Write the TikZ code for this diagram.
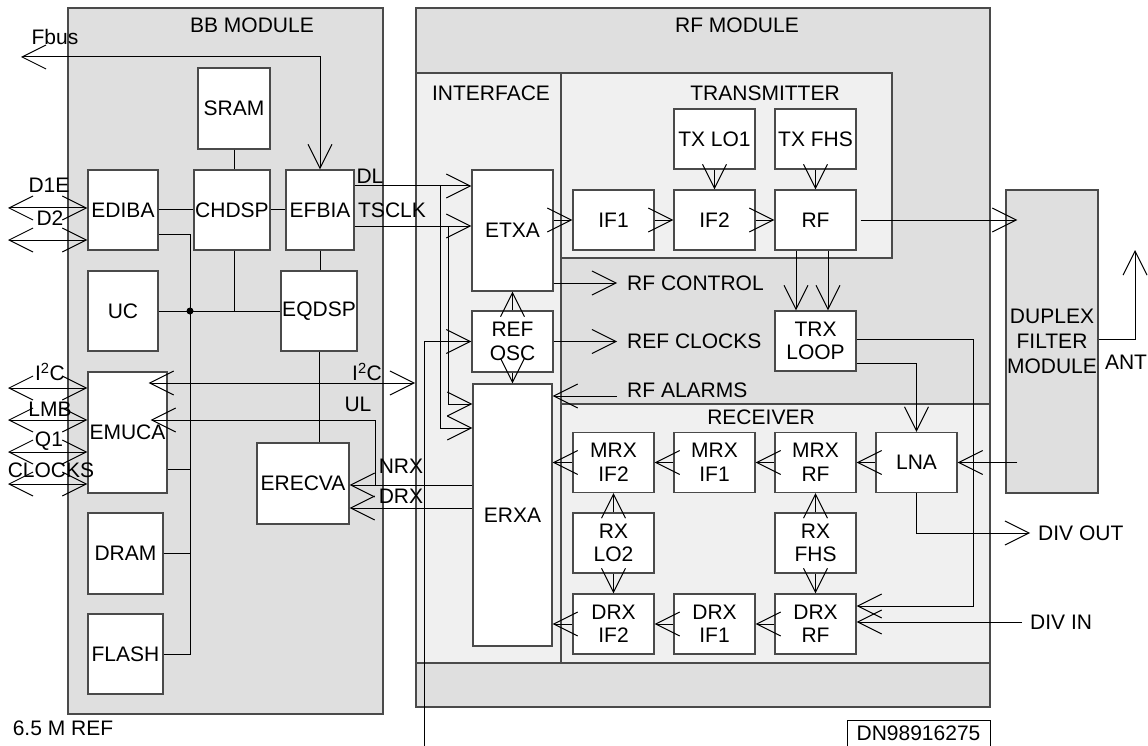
\documentclass[tikz,border=0pt]{standalone}
\usepackage{fontspec}
\setmainfont{Liberation Sans}
\usetikzlibrary{arrows.meta,positioning,calc}
\definecolor{modgray}{HTML}{DFDFDF}
\definecolor{subgray}{HTML}{F0F0F0}
\definecolor{edgegray}{HTML}{4A4A4A}
\tikzset{
  module/.style={draw=edgegray,fill=modgray,line width=1.5pt},
  section/.style={draw=edgegray,fill=subgray,line width=1.2pt},
  blk/.style={draw=edgegray,fill=white,line width=1.2pt,
              align=center,inner sep=1pt},
  rfblk/.style={blk,minimum width=81pt,minimum height=60pt},
  txt/.style={inner sep=0pt,align=center},
  sig/.style={line width=1pt},
  arr/.style={sig,-{Straight Barb[length=24pt,width=24pt]}},
  biarr/.style={sig,{Straight Barb[length=24pt,width=24pt]}-{Straight Barb[length=24pt,width=24pt]}}
}

\begin{document}
\begin{tikzpicture}[x=1pt,y=-1pt,font=\fontsize{21}{23.5}\selectfont]
  \useasboundingbox (0,0) rectangle (1148,746);

  % modules and sections
  \draw[module] (68,8) rectangle (383,714);
  \draw[module] (416,8) rectangle (990,707);
  \draw[section] (416,73) rectangle (561,663);
  \draw[section] (561,73) rectangle (892,258);
  \draw[section] (561,404) rectangle (990,663);
  \node[txt] (bbname) at (252,25) {BB MODULE};
  \node[txt] (rfname) at (737,25) {RF MODULE};
  \node[txt] (ifname) at (491,93) {INTERFACE};
  \node[txt] (txname) at (765,93) {TRANSMITTER};
  \node[txt] (rxname) at (761,417) {RECEIVER};

  % BB blocks
  \node[blk,minimum width=72pt,minimum height=81pt] (sram) at (234,108.5) {SRAM};
  \node[blk,minimum width=70pt,minimum height=80pt] (ediba) at (123,210) {EDIBA};
  \node[blk,minimum width=76pt,minimum height=80pt] (chdsp) at (232,210) {CHDSP};
  \node[blk,minimum width=68pt,minimum height=80pt] (efbia) at (320,210) {EFBIA};
  \node[blk,minimum width=70pt,minimum height=80pt] (uc) at (123,311) {UC};
  \node[blk,minimum width=76pt,minimum height=80pt] (eqdsp) at (319,311) {EQDSP};
  \node[blk,minimum width=79pt,minimum height=121pt] (emuca) at (127.5,432.5) {EMUCA};
  \node[blk,minimum width=92pt,minimum height=81pt] (erecva) at (303,483.5) {ERECVA};
  \node[blk,minimum width=75pt,minimum height=81pt] (dram) at (125.5,553.5) {DRAM};
  \node[blk,minimum width=75pt,minimum height=80pt] (flash) at (125.5,654) {FLASH};

  % interface blocks
  \node[blk,minimum width=81pt,minimum height=121pt] (etxa) at (512.5,230.5) {ETXA};
  \node[blk,minimum width=81pt,minimum height=61pt] (refosc) at (512.5,341.5) {REF\\OSC};
  \node[blk,minimum width=79pt,minimum height=262pt] (erxa) at (512.5,515) {ERXA};

  % transmitter blocks
  \node[rfblk] (if1) at (613.5,220) {IF1};
  \node[rfblk] (if2) at (714.5,220) {IF2};
  \node[rfblk] (rf) at (815.5,220) {RF};
  \node[rfblk] (txlo1) at (714.5,139) {TX LO1};
  \node[rfblk] (txfhs) at (815.5,139) {TX FHS};
  \node[rfblk] (trxloop) at (815.5,341) {TRX\\LOOP};

  % receiver blocks
  \node[rfblk] (mrxif2) at (613.5,462.5) {MRX\\IF2};
  \node[rfblk] (mrxif1) at (714.5,462.5) {MRX\\IF1};
  \node[rfblk] (mrxrf) at (815.5,462.5) {MRX\\RF};
  \node[rfblk] (lna) at (916.5,462.5) {LNA};
  \node[rfblk] (rxlo2) at (613.5,543) {RX\\LO2};
  \node[rfblk] (rxfhs) at (815.5,543) {RX\\FHS};
  \node[rfblk] (drxif2) at (613.5,624) {DRX\\IF2};
  \node[rfblk] (drxif1) at (714.5,624) {DRX\\IF1};
  \node[rfblk] (drxrf) at (815.5,624) {DRX\\RF};

  \node[blk,fill=modgray,minimum width=92pt,minimum height=303pt,
        font=\fontsize{21}{25}\selectfont] (duplex) at (1052,341.5) {DUPLEX\\FILTER\\MODULE};

  % labels
  \node[txt] (fbus) at (55,37) {Fbus};
  \node[txt] (d1e) at (49,185) {D1E};
  \node[txt] (d2) at (50,218) {D2};
  \node[txt] (i2cl) at (50,372) {I\textsuperscript{2}C};
  \node[txt] (lmb) at (50,409) {LMB};
  \node[txt] (q1) at (49,441) {Q1};
  \node[txt] (clocks) at (51,470) {CLOCKS};
  \node[txt] (i2cr) at (367,372) {I\textsuperscript{2}C};
  \node[txt] (ul) at (358,404) {UL};
  \node[txt] (nrx) at (401,466) {NRX};
  \node[txt] (drx) at (401,496) {DRX};
  \node[txt] (dl) at (370,176) {DL};
  \node[txt] (tsclk) at (392,210) {TSCLK};
  \node[txt,anchor=west] (rfctl) at (627,283) {RF CONTROL};
  \node[txt,anchor=west] (refclk) at (627,341.5) {REF CLOCKS};
  \node[txt,anchor=west] (rfalarm) at (627,390) {RF ALARMS};
  \node[txt,anchor=west] (divout) at (1038,533) {DIV OUT};
  \node[txt,anchor=west] (divin) at (1030,622) {DIV IN};
  \node[txt] (ant) at (1126,362) {ANT};
  \node[txt] (ref65) at (63,728) {6.5 M REF};
  \node[draw,line width=1pt,minimum width=143pt,minimum height=26pt,inner sep=0pt] (dn) at (918.5,733) {DN98916275};

  % BB connections
  \draw[sig] (sram.south) -- (sram.south |- chdsp.north);
  \draw[sig] (ediba) -- (chdsp);
  \draw[sig] (chdsp) -- (efbia);
  \draw[sig] (efbia.south) -- (efbia.south |- eqdsp.north);
  \draw[sig] (eqdsp.south) -- (eqdsp.south |- erecva.north);
  \coordinate (bustop) at (190,234);
  \coordinate (busbot) at (190,654);
  \draw[sig] (ediba.east |- bustop) -- (bustop) -- (busbot) -- (flash.east);
  \draw[sig] (uc.east) -- (eqdsp.west);
  \draw[sig] (sram.south |- chdsp.south) -- (sram.south |- uc.east);
  \fill (bustop |- uc.east) circle (3.5pt);
  \draw[sig] (emuca.east |- 0,469) -- (bustop |- 0,469);
  \draw[sig] (dram.east) -- (bustop |- dram.east);
  \draw[biarr] (21,57) -- (efbia.north |- 0,57) -- (efbia.north);

  % external BB ports
  \foreach \yy in {208,240}
    \draw[biarr] (8,\yy) -- (ediba.west |- 0,\yy);
  \foreach \yy in {388,420,452,484}
    \draw[biarr] (8,\yy) -- (emuca.west |- 0,\yy);

  % BB to RF
  \draw[biarr] ([xshift=-19pt]emuca.east |- 0,383) -- (415,383);
  \draw[arr] (erxa.west |- 0,485) -- (erecva.east |- 0,485);
  \draw[arr] (erxa.west |- 0,508) -- (erecva.east |- 0,508);
  \draw[arr] (375,485) -- (375,420) -- ([xshift=-17pt]emuca.east |- 0,420);
  \draw[arr] (efbia.east |- 0,186) -- (etxa.west |- 0,186);
  \draw[arr] (efbia.east |- 0,226) -- (etxa.west |- 0,226);
  \draw[arr] (440,186) -- (440,428) -- (erxa.west |- 0,428);
  \draw[arr] (448,226) -- (448,404) -- (erxa.west |- 0,404);
  \draw[arr] (424,746) -- (424,341.5) -- (refosc.west);

  % interface
  \draw[arr] (refosc.north) -- (etxa.south);
  \draw[arr] (refosc.south) -- (erxa.north);
  \draw[arr] (etxa.east |- rfctl.west) -- ([xshift=-10pt]rfctl.west);
  \draw[arr] (refosc.east) -- ([xshift=-10pt]refclk.west);
  \draw[arr] ([xshift=-10pt]rfalarm.west |- 0,396) -- (erxa.east |- 0,396);

  % transmitter
  \draw[arr] (etxa.east |- if1.west) -- (if1);
  \draw[arr] (if1) -- (if2);
  \draw[arr] (if2) -- (rf);
  \draw[arr] (txlo1) -- (if2);
  \draw[arr] (txfhs) -- (rf);
  \draw[arr,shorten >=-12pt] ([xshift=4pt]rf.east) -- (duplex.west |- rf.east);
  \draw[arr] ([xshift=-19.5pt]rf.south) -- ([xshift=-19.5pt]trxloop.north);
  \draw[arr] ([xshift=12.5pt]rf.south) -- ([xshift=12.5pt]trxloop.north);
  \draw[arr] (trxloop.east |- 0,363) -- (lna.north |- 0,363) -- (lna.north);
  \draw[arr] (trxloop.east |- 0,339) -- (973,339) -- (973,606) -- (drxrf.east |- 0,606);
  \draw[arr] (duplex.east |- 0,339) -- (1135,339) -- (1135,250);

  % receiver
  \draw[arr] ([xshift=12pt]duplex.west |- lna.east) -- (lna.east);
  \draw[arr] (lna.south) -- (lna.south |- divout.west) -- ([xshift=-8pt]divout.west);
  \draw[arr] ([xshift=-8pt]divin.west) -- (drxrf.east |- divin.west);
  \draw[arr] (lna) -- (mrxrf);
  \draw[arr] (mrxrf) -- (mrxif1);
  \draw[arr] (mrxif1) -- (mrxif2);
  \draw[arr] (mrxif2) -- (erxa.east |- mrxif2);
  \draw[arr] (drxrf) -- (drxif1);
  \draw[arr] (drxif1) -- (drxif2);
  \draw[arr] (drxif2) -- (erxa.east |- drxif2);
  \draw[arr] (rxlo2) -- (mrxif2);
  \draw[arr] (rxlo2) -- (drxif2);
  \draw[arr] (rxfhs) -- (mrxrf);
  \draw[arr] (rxfhs) -- (drxrf);
\end{tikzpicture}
\end{document}
